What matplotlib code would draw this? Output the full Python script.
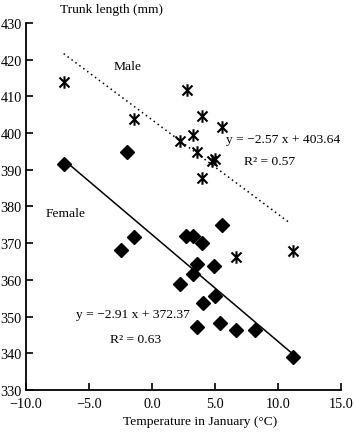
import matplotlib
matplotlib.use("Agg")
import matplotlib.pyplot as plt
from matplotlib.path import Path
import numpy as np

plt.rcParams['font.family'] = ['Liberation Serif', 'DejaVu Serif']

# male (stars)
male_x = [-6.96, -1.43, 2.75, 3.97, 5.58, 2.22, 3.28, 3.60, 4.80, 5.00, 3.99, 6.67, 11.17]
male_y = [414.0, 403.7, 411.7, 404.6, 401.6, 397.9, 399.5, 394.8, 392.5, 393.0, 387.8, 366.3, 368.0]

# female (diamonds)
fem_x = [-6.96, -2.01, -2.46, -1.40, 2.70, 3.28, 3.94, 5.58, 3.62, 4.92, 3.28, 2.25,
         5.00, 4.02, 3.62, 5.40, 6.67, 8.17, 11.17]
fem_y = [391.5, 394.8, 368.1, 371.6, 372.0, 372.0, 370.1, 375.0, 364.3, 363.9, 361.5, 358.9,
         355.5, 353.6, 347.2, 348.4, 346.3, 346.3, 338.9]

# regression lines
male_fit = (-2.57, 403.64)
fem_fit = (-2.91, 372.37)
fit_range = [-7.0, 11.0]

xticks = [-10, -5, 0, 5, 10, 15]
yticks = [330, 340, 350, 360, 370, 380, 390, 400, 410, 420, 430]

# star = x with a vertical bar
star = Path([(-0.8, -0.8), (0.8, 0.8), (-0.8, 0.8), (0.8, -0.8), (0, -1), (0, 1)],
            [Path.MOVETO, Path.LINETO, Path.MOVETO, Path.LINETO, Path.MOVETO, Path.LINETO])

fig = plt.figure(figsize=(3.54, 4.35), dpi=100)
ax = fig.add_axes([0.073, 0.101, 0.890, 0.844])

xl = np.array(fit_range)
ax.plot(xl, male_fit[0]*xl + male_fit[1], color='black', ls=(0, (1, 2.2)), lw=1.1)
ax.plot(xl, fem_fit[0]*xl + fem_fit[1], color='black', ls='-', lw=1.1)

ax.plot(male_x, male_y, ls='none', marker=star, ms=9, mew=1.5, color='black')
ax.plot(fem_x, fem_y, ls='none', marker='D', ms=7, color='black')

fs = 9.7
ax.text(-1.9, 418.3, 'Male', fontsize=fs, ha='center', va='center')
ax.text(5.87, 398.4, 'y = \u22122.57 x + 403.64', fontsize=fs, va='center')
ax.text(7.3, 392.5, 'R\u00b2 = 0.57', fontsize=fs, va='center')
ax.text(-8.41, 378.2, 'Female', fontsize=fs, va='center')
ax.text(-6.03, 350.7, 'y = \u22122.91 x + 372.37', fontsize=fs, va='center')
ax.text(-3.33, 343.9, 'R\u00b2 = 0.63', fontsize=fs, va='center')

ax.set_xlim(-10, 15)
ax.set_ylim(330, 430)
ax.set_xticks(xticks)
ax.set_xticklabels([('%.1f' % t).replace('-', '\u2212') for t in xticks])
ax.set_yticks(yticks)
ax.tick_params(direction='in', length=5, width=1.2, labelsize=10.3)
ax.tick_params(axis='x', pad=5)
ax.tick_params(axis='y', pad=3)
ax.spines['top'].set_visible(False)
ax.spines['right'].set_visible(False)
ax.spines['left'].set_linewidth(1.3)
ax.spines['bottom'].set_linewidth(1.3)

fig.text(0.17, 0.977, 'Trunk length (mm)', fontsize=fs, ha='left', va='center')
fig.text(0.565, 0.030, 'Temperature in January (\u00b0C)', fontsize=fs, ha='center', va='center')

fig.savefig('out.png', dpi=100)
